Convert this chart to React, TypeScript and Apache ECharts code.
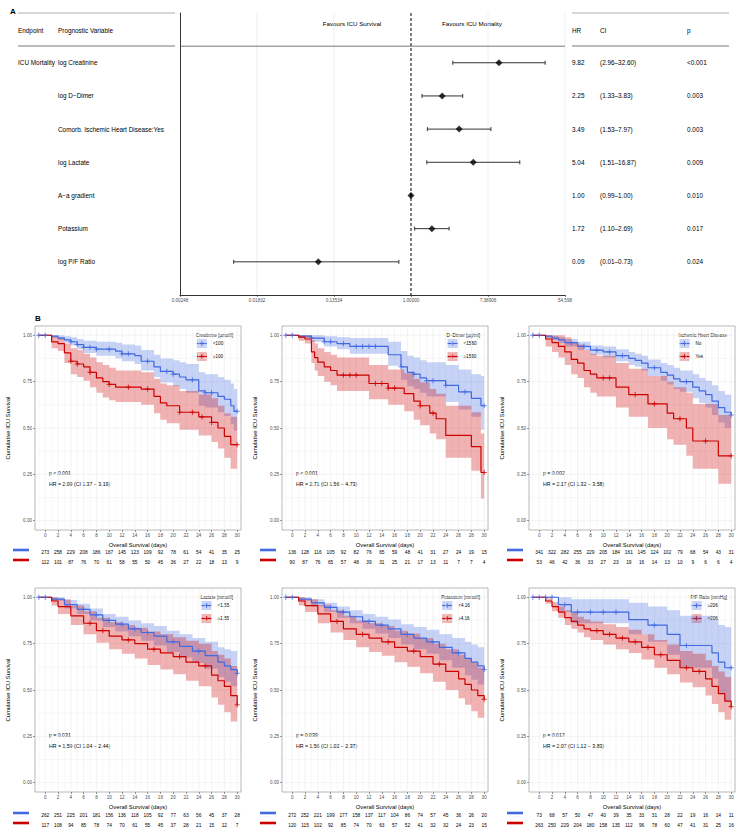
import React, { useEffect, useRef } from "react";
import * as echarts from "echarts";

const FONT = "'Liberation Sans', Arial, Helvetica, sans-serif";
const BLUE = "#4169E1";
const RED = "#CD0000";
const BLUE_FILL = "rgba(65,105,225,0.3)";
const RED_FILL = "rgba(205,0,0,0.3)";

// ---------------- Forest plot data ----------------
const forestEndpoint = "ICU Mortality";
const forestVars = [
  "log Creatinine",
  "log D\u2212Dimer",
  "Comorb. Ischemic Heart Disease:Yes",
  "log Lactate",
  "A\u2212a gradient",
  "Potassium",
  "log P/F Ratio",
];
const forestHR = [9.82, 2.25, 3.49, 5.04, 1.0, 1.72, 0.09];
const forestLower = [2.96, 1.33, 1.53, 1.51, 0.99, 1.1, 0.01];
const forestUpper = [32.6, 3.83, 7.97, 16.87, 1.0, 2.69, 0.73];
const forestHRLabel = ["9.82", "2.25", "3.49", "5.04", "1.00", "1.72", "0.09"];
const forestCILabel = ["(2.96\u201332.60)", "(1.33\u20133.83)", "(1.53\u20137.97)", "(1.51\u201316.87)", "(0.99\u20131.00)", "(1.10\u20132.69)", "(0.01\u20130.73)"];
const forestPLabel = ["<0.001", "0.003", "0.003", "0.009", "0.010", "0.017", "0.024"];
const forestTicks = [0.00248, 0.01832, 0.13534, 1, 7.38906, 54.598];
const forestTickLabels = ["0.00248", "0.01832", "0.13534", "1.00000", "7.38906", "54.598"];

// ---------------- KM common ----------------
const dayTicks = [0, 2, 4, 6, 8, 10, 12, 14, 16, 18, 20, 22, 24, 26, 28, 30];
const survTicks = [0, 0.25, 0.5, 0.75, 1];
const dayGridLines = [-1, 0, 1, 2, 3, 4, 5, 6, 7, 8, 9, 10, 11, 12, 13, 14, 15, 16, 17, 18, 19, 20, 21, 22, 23, 24, 25, 26, 27, 28, 29, 30];
const survGridLines = [0, 0.125, 0.25, 0.375, 0.5, 0.625, 0.75, 0.875, 1];

// ---------------- Panel 1: Creatinine ----------------
const p1Title = "Creatinine [\u00b5mol/l]";
const p1Groups = ["<100", "\u2265100"];
const p1PText = "p < 0.001";
const p1HRText = "HR = 2.09 (CI 1.37 \u2212 3.19)";
const p1RiskBlue = [273, 258, 229, 208, 186, 167, 145, 123, 109, 92, 78, 61, 54, 41, 35, 25];
const p1RiskRed = [112, 101, 87, 76, 70, 61, 58, 55, 50, 45, 36, 27, 22, 18, 13, 9];
const p1BlueTime = [-1, 1, 2, 3, 4, 5, 6, 8, 11, 12, 14, 15, 17, 18, 20, 21, 22, 24, 25, 27, 28, 29, 29.5, 30];
const p1BlueSurv = [1, 0.995, 0.985, 0.975, 0.965, 0.95, 0.935, 0.925, 0.915, 0.9, 0.89, 0.86, 0.83, 0.805, 0.79, 0.775, 0.76, 0.7, 0.69, 0.67, 0.655, 0.62, 0.59, 0.59];
const p1BlueLower = [1, 0.985, 0.975, 0.96, 0.945, 0.925, 0.905, 0.89, 0.875, 0.86, 0.845, 0.81, 0.775, 0.745, 0.725, 0.71, 0.69, 0.62, 0.61, 0.585, 0.565, 0.52, 0.485, 0.485];
const p1BlueUpper = [1, 1, 1, 0.995, 0.99, 0.98, 0.97, 0.965, 0.96, 0.95, 0.945, 0.92, 0.895, 0.875, 0.865, 0.855, 0.845, 0.8, 0.79, 0.775, 0.76, 0.74, 0.71, 0.71];
const p1BlueCensor = [-1, 0, 4, 5, 6, 7, 8, 10, 12, 13, 16, 19, 20, 23, 25, 26, 30];
const p1RedTime = [-1, 1, 2, 3, 4, 5, 6, 7, 8, 9, 10, 11, 15, 17, 18, 19, 21, 24, 26, 27, 28, 29, 30];
const p1RedSurv = [1, 0.964, 0.955, 0.905, 0.86, 0.845, 0.83, 0.8, 0.77, 0.75, 0.735, 0.72, 0.71, 0.67, 0.635, 0.62, 0.585, 0.56, 0.53, 0.5, 0.455, 0.41, 0.41];
const p1RedLower = [1, 0.93, 0.915, 0.85, 0.79, 0.775, 0.755, 0.72, 0.69, 0.665, 0.65, 0.64, 0.625, 0.58, 0.545, 0.525, 0.49, 0.46, 0.425, 0.39, 0.34, 0.28, 0.28];
const p1RedUpper = [1, 0.995, 0.99, 0.955, 0.93, 0.92, 0.9, 0.88, 0.855, 0.84, 0.825, 0.81, 0.8, 0.765, 0.74, 0.73, 0.7, 0.68, 0.66, 0.62, 0.58, 0.56, 0.56];
const p1RedCensor = [4, 5, 7, 10, 13, 16, 21, 23, 24.5, 26, 30];

// ---------------- Panel 2: D-Dimer ----------------
const p2Title = "D\u2212Dimer [\u00b5g/ml]";
const p2Groups = ["<1560", "\u22651560"];
const p2PText = "p < 0.001";
const p2HRText = "HR = 2.71 (CI 1.56 \u2212 4.73)";
const p2RiskBlue = [136, 128, 116, 105, 92, 82, 76, 65, 59, 48, 41, 31, 27, 24, 19, 15];
const p2RiskRed = [90, 87, 76, 65, 57, 48, 39, 31, 25, 21, 17, 13, 11, 7, 7, 4];
const p2BlueTime = [-1, 1, 3, 5, 7, 9, 15, 17, 18, 19, 20, 21, 24, 26, 28, 29.5, 30];
const p2BlueSurv = [1, 0.995, 0.985, 0.965, 0.955, 0.94, 0.895, 0.83, 0.8, 0.79, 0.77, 0.755, 0.73, 0.695, 0.66, 0.62, 0.62];
const p2BlueLower = [1, 0.985, 0.965, 0.94, 0.925, 0.9, 0.835, 0.76, 0.725, 0.71, 0.69, 0.67, 0.64, 0.6, 0.56, 0.49, 0.49];
const p2BlueUpper = [1, 1, 1, 0.995, 0.99, 0.985, 0.965, 0.915, 0.89, 0.88, 0.865, 0.855, 0.84, 0.815, 0.79, 0.78, 0.78];
const p2BlueCensor = [-1, 0, 3, 5, 6, 8, 10, 11, 12, 13, 17, 19, 21, 22, 24, 27, 30];
const p2RedTime = [-1, 1, 2, 3, 3.5, 4, 5, 6, 7, 12, 15, 17.5, 19, 20, 21.5, 22.5, 24, 28, 29.5, 30];
const p2RedSurv = [1, 0.99, 0.98, 0.91, 0.88, 0.855, 0.83, 0.81, 0.785, 0.74, 0.715, 0.685, 0.645, 0.62, 0.58, 0.55, 0.46, 0.4, 0.26, 0.26];
const p2RedLower = [1, 0.97, 0.955, 0.85, 0.81, 0.78, 0.75, 0.73, 0.7, 0.655, 0.625, 0.59, 0.545, 0.515, 0.47, 0.44, 0.34, 0.27, 0.12, 0.12];
const p2RedUpper = [1, 1, 1, 0.975, 0.955, 0.93, 0.91, 0.895, 0.88, 0.84, 0.815, 0.795, 0.765, 0.745, 0.71, 0.685, 0.62, 0.585, 0.47, 0.47];
const p2RedCensor = [8, 9, 10, 13, 14, 15, 16, 20, 22, 30];

// ---------------- Panel 3: Ischemic Heart Disease ----------------
const p3Title = "Ischemic Heart Disease";
const p3Groups = ["No", "Yes"];
const p3PText = "p = 0.002";
const p3HRText = "HR = 2.17 (CI 1.32 \u2212 3.58)";
const p3RiskBlue = [341, 322, 282, 255, 229, 205, 184, 161, 145, 124, 102, 79, 68, 54, 43, 31];
const p3RiskRed = [53, 46, 42, 36, 33, 27, 23, 19, 16, 14, 13, 10, 9, 6, 6, 4];
const p3BlueTime = [-1, 1, 2, 3, 4, 6, 8, 10, 12, 14, 15, 16, 17, 19, 20, 21, 22, 24, 25, 26, 27, 28, 29, 30];
const p3BlueSurv = [1, 0.995, 0.985, 0.975, 0.96, 0.94, 0.92, 0.91, 0.89, 0.875, 0.865, 0.85, 0.825, 0.8, 0.785, 0.765, 0.75, 0.72, 0.7, 0.68, 0.645, 0.61, 0.585, 0.57];
const p3BlueLower = [1, 0.987, 0.975, 0.96, 0.94, 0.92, 0.895, 0.88, 0.86, 0.84, 0.83, 0.81, 0.78, 0.755, 0.735, 0.71, 0.695, 0.66, 0.635, 0.61, 0.57, 0.53, 0.5, 0.48];
const p3BlueUpper = [1, 1, 0.997, 0.99, 0.98, 0.965, 0.945, 0.94, 0.925, 0.91, 0.9, 0.89, 0.87, 0.85, 0.84, 0.825, 0.81, 0.79, 0.77, 0.755, 0.73, 0.7, 0.68, 0.67];
const p3BlueCensor = [-1, 0, 5, 7, 9, 11, 13, 18, 23, 30];
const p3RedTime = [-1, 1, 2, 3, 4, 5, 6, 7, 8, 9, 12, 14, 17, 20, 21, 23, 24, 28, 30];
const p3RedSurv = [1, 0.98, 0.96, 0.94, 0.91, 0.87, 0.85, 0.81, 0.79, 0.77, 0.72, 0.68, 0.63, 0.58, 0.55, 0.5, 0.43, 0.35, 0.35];
const p3RedLower = [1, 0.94, 0.91, 0.88, 0.84, 0.79, 0.77, 0.72, 0.69, 0.67, 0.61, 0.56, 0.5, 0.44, 0.41, 0.35, 0.28, 0.2, 0.2];
const p3RedUpper = [1, 1, 1, 1, 0.99, 0.96, 0.95, 0.92, 0.9, 0.89, 0.85, 0.82, 0.78, 0.75, 0.72, 0.69, 0.63, 0.57, 0.57];
const p3RedCensor = [10, 11, 15, 18, 22, 26, 30];

// ---------------- Panel 4: Lactate ----------------
const p4Title = "Lactate [mmol/l]";
const p4Groups = ["<1.55", "\u22651.55"];
const p4PText = "p = 0.031";
const p4HRText = "HR = 1.59 (CI 1.04 \u2212 2.44)";
const p4RiskBlue = [262, 251, 225, 201, 181, 156, 136, 118, 105, 92, 77, 63, 56, 45, 37, 28];
const p4RiskRed = [117, 108, 94, 85, 78, 74, 70, 61, 55, 45, 37, 28, 21, 15, 12, 7];
const p4BlueTime = [-1, 1, 3, 5, 7, 9, 11, 13, 15, 17, 19, 21, 23, 25, 27, 28, 29, 30];
const p4BlueSurv = [1, 0.99, 0.96, 0.935, 0.905, 0.875, 0.855, 0.83, 0.81, 0.79, 0.76, 0.735, 0.71, 0.685, 0.65, 0.63, 0.61, 0.59];
const p4BlueLower = [1, 0.98, 0.94, 0.91, 0.875, 0.84, 0.815, 0.79, 0.765, 0.74, 0.705, 0.675, 0.645, 0.615, 0.57, 0.545, 0.52, 0.49];
const p4BlueUpper = [1, 1, 0.985, 0.965, 0.94, 0.91, 0.895, 0.875, 0.86, 0.845, 0.82, 0.8, 0.78, 0.76, 0.73, 0.72, 0.71, 0.7];
const p4BlueCensor = [-1, 0, 6, 8, 10, 12, 14, 16, 20, 24, 30];
const p4RedTime = [-1, 1, 2, 4, 6, 8, 10, 12, 14, 16, 18, 20, 22, 24, 26, 27, 28, 29, 30];
const p4RedSurv = [1, 0.98, 0.95, 0.9, 0.86, 0.82, 0.79, 0.77, 0.75, 0.72, 0.7, 0.68, 0.65, 0.63, 0.58, 0.55, 0.52, 0.47, 0.42];
const p4RedLower = [1, 0.955, 0.91, 0.85, 0.8, 0.755, 0.72, 0.695, 0.67, 0.635, 0.61, 0.585, 0.55, 0.52, 0.46, 0.42, 0.38, 0.33, 0.28];
const p4RedUpper = [1, 1, 0.99, 0.955, 0.925, 0.89, 0.865, 0.85, 0.835, 0.815, 0.8, 0.785, 0.765, 0.75, 0.71, 0.69, 0.67, 0.63, 0.59];
const p4RedCensor = [7, 9, 13, 17, 21, 25, 30];

// ---------------- Panel 5: Potassium ----------------
const p5Title = "Potassium [mmol/l]";
const p5Groups = ["<4.16", "\u22654.16"];
const p5PText = "p = 0.039";
const p5HRText = "HR = 1.56 (CI 1.02 \u2212 2.37)";
const p5RiskBlue = [272, 252, 221, 199, 177, 158, 137, 117, 104, 86, 74, 57, 45, 36, 26, 20];
const p5RiskRed = [120, 115, 102, 92, 85, 74, 70, 63, 57, 52, 41, 32, 32, 24, 23, 15];
const p5BlueTime = [-1, 1, 3, 5, 7, 9, 11, 13, 15, 17, 19, 21, 23, 25, 27, 28, 29, 30];
const p5BlueSurv = [1, 0.99, 0.97, 0.945, 0.92, 0.895, 0.87, 0.85, 0.83, 0.8, 0.78, 0.76, 0.73, 0.7, 0.67, 0.65, 0.63, 0.61];
const p5BlueLower = [1, 0.98, 0.95, 0.92, 0.89, 0.86, 0.83, 0.805, 0.78, 0.745, 0.72, 0.695, 0.66, 0.62, 0.58, 0.555, 0.53, 0.5];
const p5BlueUpper = [1, 1, 0.99, 0.97, 0.95, 0.93, 0.91, 0.895, 0.88, 0.855, 0.84, 0.825, 0.8, 0.78, 0.76, 0.745, 0.73, 0.72];
const p5BlueCensor = [-1, 0, 6, 8, 12, 14, 18, 22, 26, 30];
const p5RedTime = [-1, 1, 2, 4, 6, 8, 10, 12, 14, 16, 18, 20, 22, 24, 26, 27, 28, 29, 30];
const p5RedSurv = [1, 0.98, 0.955, 0.91, 0.87, 0.83, 0.8, 0.78, 0.76, 0.73, 0.71, 0.68, 0.64, 0.6, 0.56, 0.53, 0.5, 0.47, 0.45];
const p5RedLower = [1, 0.955, 0.92, 0.86, 0.81, 0.77, 0.73, 0.705, 0.685, 0.65, 0.625, 0.59, 0.545, 0.5, 0.455, 0.42, 0.385, 0.35, 0.33];
const p5RedUpper = [1, 1, 0.99, 0.96, 0.93, 0.9, 0.875, 0.86, 0.845, 0.82, 0.805, 0.78, 0.75, 0.72, 0.69, 0.67, 0.645, 0.62, 0.6];
const p5RedCensor = [7, 11, 15, 19, 23, 30];

// ---------------- Panel 6: P/F Ratio ----------------
const p6Title = "P/F Ratio [mmHg]";
const p6Groups = ["\u2265206", "<206"];
const p6PText = "p = 0.017";
const p6HRText = "HR = 2.07 (CI 1.12 \u2212 3.83)";
const p6RiskBlue = [73, 68, 57, 50, 47, 40, 39, 35, 33, 31, 28, 22, 19, 16, 14, 11];
const p6RiskRed = [263, 250, 229, 204, 180, 158, 135, 112, 96, 78, 60, 47, 41, 31, 25, 16];
const p6BlueTime = [-1, 3, 5, 14, 17, 20, 22, 27, 28, 29, 30];
const p6BlueSurv = [1, 0.96, 0.92, 0.88, 0.85, 0.8, 0.74, 0.7, 0.65, 0.62, 0.62];
const p6BlueLower = [1, 0.92, 0.86, 0.8, 0.76, 0.69, 0.62, 0.56, 0.48, 0.44, 0.44];
const p6BlueUpper = [1, 1, 0.99, 0.97, 0.95, 0.93, 0.9, 0.88, 0.85, 0.84, 0.84];
const p6BlueCensor = [-1, 0, 1, 2, 4, 6, 8, 10, 12, 18, 23, 30];
const p6RedTime = [-1, 1, 2, 3, 4, 5, 6, 7, 8, 10, 12, 14, 16, 18, 20, 22, 24, 26, 27, 28, 29, 30];
const p6RedSurv = [1, 0.98, 0.95, 0.92, 0.89, 0.87, 0.85, 0.83, 0.82, 0.8, 0.78, 0.76, 0.73, 0.69, 0.66, 0.62, 0.6, 0.56, 0.52, 0.48, 0.44, 0.41];
const p6RedLower = [1, 0.965, 0.925, 0.89, 0.85, 0.83, 0.81, 0.785, 0.77, 0.745, 0.72, 0.7, 0.665, 0.62, 0.585, 0.54, 0.515, 0.47, 0.425, 0.38, 0.34, 0.3];
const p6RedUpper = [1, 0.995, 0.975, 0.95, 0.93, 0.915, 0.895, 0.88, 0.87, 0.855, 0.84, 0.825, 0.8, 0.77, 0.745, 0.71, 0.695, 0.66, 0.63, 0.6, 0.57, 0.55];
const p6RedCensor = [9, 11, 13, 15, 17, 19, 23, 25, 30];

// ---------------- Layout ----------------
const FOREST = { left: 180, top: 13, width: 385, height: 282 };
const COL_LEFT = [35, 282, 529];
const ROW_TOP = [326, 588];
const PANEL_W = 206;
const PANEL_H = 204;
const RISK_Y = [552, 815];

type Curve = { time: number[]; surv: number[]; lower: number[]; upper: number[]; censor: number[] };
type Panel = {
  title: string; groups: string[]; pText: string; hrText: string;
  riskBlue: number[]; riskRed: number[]; blue: Curve; red: Curve;
};

const panels: Panel[] = [
  { title: p1Title, groups: p1Groups, pText: p1PText, hrText: p1HRText, riskBlue: p1RiskBlue, riskRed: p1RiskRed,
    blue: { time: p1BlueTime, surv: p1BlueSurv, lower: p1BlueLower, upper: p1BlueUpper, censor: p1BlueCensor },
    red: { time: p1RedTime, surv: p1RedSurv, lower: p1RedLower, upper: p1RedUpper, censor: p1RedCensor } },
  { title: p2Title, groups: p2Groups, pText: p2PText, hrText: p2HRText, riskBlue: p2RiskBlue, riskRed: p2RiskRed,
    blue: { time: p2BlueTime, surv: p2BlueSurv, lower: p2BlueLower, upper: p2BlueUpper, censor: p2BlueCensor },
    red: { time: p2RedTime, surv: p2RedSurv, lower: p2RedLower, upper: p2RedUpper, censor: p2RedCensor } },
  { title: p3Title, groups: p3Groups, pText: p3PText, hrText: p3HRText, riskBlue: p3RiskBlue, riskRed: p3RiskRed,
    blue: { time: p3BlueTime, surv: p3BlueSurv, lower: p3BlueLower, upper: p3BlueUpper, censor: p3BlueCensor },
    red: { time: p3RedTime, surv: p3RedSurv, lower: p3RedLower, upper: p3RedUpper, censor: p3RedCensor } },
  { title: p4Title, groups: p4Groups, pText: p4PText, hrText: p4HRText, riskBlue: p4RiskBlue, riskRed: p4RiskRed,
    blue: { time: p4BlueTime, surv: p4BlueSurv, lower: p4BlueLower, upper: p4BlueUpper, censor: p4BlueCensor },
    red: { time: p4RedTime, surv: p4RedSurv, lower: p4RedLower, upper: p4RedUpper, censor: p4RedCensor } },
  { title: p5Title, groups: p5Groups, pText: p5PText, hrText: p5HRText, riskBlue: p5RiskBlue, riskRed: p5RiskRed,
    blue: { time: p5BlueTime, surv: p5BlueSurv, lower: p5BlueLower, upper: p5BlueUpper, censor: p5BlueCensor },
    red: { time: p5RedTime, surv: p5RedSurv, lower: p5RedLower, upper: p5RedUpper, censor: p5RedCensor } },
  { title: p6Title, groups: p6Groups, pText: p6PText, hrText: p6HRText, riskBlue: p6RiskBlue, riskRed: p6RiskRed,
    blue: { time: p6BlueTime, surv: p6BlueSurv, lower: p6BlueLower, upper: p6BlueUpper, censor: p6BlueCensor },
    red: { time: p6RedTime, surv: p6RedSurv, lower: p6RedLower, upper: p6RedUpper, censor: p6RedCensor } },
];

function survAt(c: Curve, t: number): number {
  let v = c.surv[0];
  for (let i = 0; i < c.time.length; i++) if (c.time[i] <= t) v = c.surv[i];
  return v;
}

function textWidth(text: string, size: number): number {
  const ctx = document.createElement("canvas").getContext("2d");
  if (!ctx) return text.length * size * 0.5;
  ctx.font = `${size}px 'Liberation Sans', Arial, sans-serif`;
  return ctx.measureText(text).width;
}

function txt(text: string, x: number, y: number, size: number, opts: any = {}) {
  return {
    type: "text", x, y, silent: true,
    style: { text, fill: opts.fill || "#000", fontSize: size, fontFamily: FONT, fontWeight: opts.bold ? "bold" : "normal",
      align: opts.align || "left", verticalAlign: opts.valign || "middle" },
  };
}
function hline(x1: number, x2: number, y: number, color: string, w: number) {
  return { type: "line", silent: true, shape: { x1, y1: y, x2, y2: y }, style: { stroke: color, lineWidth: w } };
}

function bandRender(c: Curve, fill: string) {
  return (params: any, api: any) => {
    if (params.dataIndex !== 0) return null;
    const up: number[][] = [];
    const dn: number[][] = [];
    for (let i = 0; i < c.time.length; i++) {
      const x0 = c.time[i];
      const x1 = i + 1 < c.time.length ? c.time[i + 1] : c.time[i];
      up.push(api.coord([x0, c.upper[i]]), api.coord([x1, c.upper[i]]));
      dn.push(api.coord([x0, c.lower[i]]), api.coord([x1, c.lower[i]]));
    }
    return { type: "polygon", shape: { points: up.concat(dn.reverse()) }, style: { fill } };
  };
}

function buildOption() {
  const grid: any[] = [];
  const xAxis: any[] = [];
  const yAxis: any[] = [];
  const series: any[] = [];
  const graphic: any[] = [];

  // ---------- Forest ----------
  grid.push({ ...FOREST });
  xAxis.push({
    gridIndex: 0, type: "log", logBase: Math.E, min: forestTicks[0], max: forestTicks[forestTicks.length - 1],
    axisLine: { show: true, onZero: false, lineStyle: { color: "#333", width: 1 } },
    axisTick: { show: true, customValues: forestTicks, length: 2, lineStyle: { color: "#333", width: 0.6 } },
    axisLabel: {
      show: true, customValues: forestTicks, fontSize: 4.6, color: "#4d4d4d", fontFamily: FONT, margin: 3,
      formatter: (v: number) => {
        const i = forestTicks.findIndex((t) => Math.abs(t - v) / t < 1e-3);
        return i >= 0 ? forestTickLabels[i] : "";
      },
    },
    splitLine: { show: false },
  });
  yAxis.push({
    gridIndex: 0, type: "value", inverse: true, min: -0.5, max: 8,
    axisLine: { show: true, onZero: false, lineStyle: { color: "#333", width: 1 } },
    axisTick: { show: false }, axisLabel: { show: false }, splitLine: { show: false },
  });
  series.push({
    type: "custom", xAxisIndex: 0, yAxisIndex: 0, silent: true, z: 1,
    data: [[1, 0]],
    renderItem: (params: any, api: any) => {
      const cs = params.coordSys;
      const children: any[] = [];
      forestTicks.slice(1).forEach((t) => {
        const x = api.coord([t, 1])[0];
        if (t === 1) {
          children.push({ type: "line", shape: { x1: x, y1: cs.y, x2: x, y2: cs.y + cs.height }, style: { stroke: "#000", lineWidth: 1, lineDash: [3, 2] }, z2: 5 });
        } else {
          children.push({ type: "line", shape: { x1: x, y1: cs.y, x2: x, y2: cs.y + cs.height }, style: { stroke: "#e6e6e6", lineWidth: 0.6 } });
        }
      });
      const yh = api.coord([1, 0.5])[1];
      children.push({ type: "line", shape: { x1: cs.x, y1: yh, x2: cs.x + cs.width, y2: yh }, style: { stroke: "#555", lineWidth: 0.8 } });
      return { type: "group", children };
    },
  });
  series.push({
    type: "custom", xAxisIndex: 0, yAxisIndex: 0, silent: true, z: 3,
    data: forestVars.map((_, i) => [forestLower[i], forestUpper[i], i + 1]),
    encode: { x: [0, 1], y: 2 },
    renderItem: (params: any, api: any) => {
      const a = api.coord([api.value(0), api.value(2)]);
      const b = api.coord([api.value(1), api.value(2)]);
      const st = { stroke: "#333", lineWidth: 1 };
      return {
        type: "group",
        children: [
          { type: "line", shape: { x1: a[0], y1: a[1], x2: b[0], y2: b[1] }, style: st },
          { type: "line", shape: { x1: a[0], y1: a[1] - 2, x2: a[0], y2: a[1] + 2 }, style: st },
          { type: "line", shape: { x1: b[0], y1: b[1] - 2, x2: b[0], y2: b[1] + 2 }, style: st },
        ],
      };
    },
  });
  series.push({
    type: "scatter", xAxisIndex: 0, yAxisIndex: 0, silent: true, z: 4,
    symbol: "diamond", symbolSize: 7, itemStyle: { color: "#000" },
    data: forestHR.map((v, i) => [v, i + 1]),
  });
  series.push({
    type: "custom", xAxisIndex: 0, yAxisIndex: 0, silent: true, z: 5,
    data: forestVars.map((_, i) => [1, i + 1]),
    encode: { x: 0, y: 1 },
    renderItem: (params: any, api: any) => {
      const i = params.dataIndex;
      const y = api.coord([1, api.value(1)])[1];
      const mk = (text: string, x: number) => ({
        type: "text", x, y,
        style: { text, fill: "#000", fontSize: 6.4, fontFamily: FONT, align: "left", verticalAlign: "middle" },
      });
      const ch: any[] = [mk(forestVars[i], 58), mk(forestHRLabel[i], 572), mk(forestCILabel[i], 600), mk(forestPLabel[i], 687)];
      if (i === 0) ch.push(mk(forestEndpoint, 18));
      return { type: "group", children: ch };
    },
  });
  graphic.push(txt("A", 10, 11, 8, { bold: true }));
  graphic.push(hline(18, 175, 13, "#999", 0.8));
  graphic.push(hline(18, 175, 46, "#555", 0.8));
  graphic.push(hline(572, 729, 13, "#999", 0.8));
  graphic.push(hline(572, 729, 46, "#555", 0.8));
  graphic.push(txt("Endpoint", 18, 30, 6.4));
  graphic.push(txt("Prognostic Variable", 58, 30, 6.4));
  graphic.push(txt("HR", 572, 30, 6.4));
  graphic.push(txt("CI", 600, 30, 6.4));
  graphic.push(txt("p", 687, 30, 6.4));
  graphic.push(txt("Favours ICU Survival", 352, 23, 6.2, { align: "center" }));
  graphic.push(txt("Favours ICU Mortality", 472, 23, 6.2, { align: "center" }));
  graphic.push(txt("B", 35, 318, 8, { bold: true }));

  // ---------- KM panels ----------
  panels.forEach((p, k) => {
    const col = k % 3;
    const row = Math.floor(k / 3);
    const L = COL_LEFT[col];
    const T = ROW_TOP[row];
    const gi = grid.length;
    grid.push({ left: L, top: T, width: PANEL_W, height: PANEL_H, show: true, borderColor: "#999", borderWidth: 0.7, backgroundColor: "transparent" });
    xAxis.push({
      gridIndex: gi, type: "value", min: -1.6, max: 30.6,
      name: "Overall Survival (days)", nameLocation: "middle", nameGap: 12,
      nameTextStyle: { fontSize: 5.8, color: "#000", fontFamily: FONT },
      axisLine: { show: false, onZero: false },
      axisTick: { show: true, customValues: dayTicks, length: 2, lineStyle: { color: "#333", width: 0.5 } },
      axisLabel: { show: true, customValues: dayTicks, fontSize: 4.6, color: "#4d4d4d", fontFamily: FONT, margin: 3 },
      splitLine: { show: false },
    });
    yAxis.push({
      gridIndex: gi, type: "value", min: -0.05, max: 1.05,
      name: "Cumulative ICU Survival", nameLocation: "middle", nameGap: 24,
      nameTextStyle: { fontSize: 5.8, color: "#000", fontFamily: FONT },
      axisLine: { show: false, onZero: false },
      axisTick: { show: true, customValues: survTicks, length: 2, lineStyle: { color: "#333", width: 0.5 } },
      axisLabel: { show: true, customValues: survTicks, fontSize: 4.6, color: "#4d4d4d", fontFamily: FONT, margin: 3, formatter: (v: number) => v.toFixed(2) },
      splitLine: { show: false },
    });
    series.push({
      type: "custom", xAxisIndex: gi, yAxisIndex: gi, silent: true, z: 1, data: [[0, 0]],
      renderItem: (params: any, api: any) => {
        const cs = params.coordSys;
        const ch: any[] = [];
        dayGridLines.forEach((d) => {
          const x = api.coord([d, 0])[0];
          ch.push({ type: "line", shape: { x1: x, y1: cs.y, x2: x, y2: cs.y + cs.height }, style: { stroke: "#ebebeb", lineWidth: d % 2 === 0 ? 0.6 : 0.35 } });
        });
        survGridLines.forEach((s, j) => {
          const y = api.coord([0, s])[1];
          ch.push({ type: "line", shape: { x1: cs.x, y1: y, x2: cs.x + cs.width, y2: y }, style: { stroke: "#ebebeb", lineWidth: j % 2 === 0 ? 0.6 : 0.35 } });
        });
        return { type: "group", children: ch };
      },
    });
    const curves: [Curve, string, string][] = [[p.blue, BLUE, BLUE_FILL], [p.red, RED, RED_FILL]];
    curves.forEach(([c, , fill]) => {
      series.push({
        type: "custom", xAxisIndex: gi, yAxisIndex: gi, silent: true, z: 2,
        data: c.time.map((t, i) => [t, c.lower[i], c.upper[i]]),
        encode: { x: 0, y: [1, 2] },
        renderItem: bandRender(c, fill),
      });
    });
    curves.forEach(([c, color]) => {
      series.push({
        type: "line", xAxisIndex: gi, yAxisIndex: gi, step: "end", silent: true, z: 3,
        showSymbol: false, symbol: "none", lineStyle: { color, width: 1.2 },
        data: c.time.map((t, i) => [t, c.surv[i]]),
      });
    });
    curves.forEach(([c, color]) => {
      series.push({
        type: "custom", xAxisIndex: gi, yAxisIndex: gi, silent: true, z: 4,
        data: c.censor.map((t) => [t, survAt(c, t)]),
        encode: { x: 0, y: 1 },
        renderItem: (params: any, api: any) => {
          const pt = api.coord([api.value(0), api.value(1)]);
          const st = { stroke: color, lineWidth: 0.8 };
          return {
            type: "group",
            children: [
              { type: "line", shape: { x1: pt[0], y1: pt[1] - 2.6, x2: pt[0], y2: pt[1] + 2.6 }, style: st },
              { type: "line", shape: { x1: pt[0] - 2.6, y1: pt[1], x2: pt[0] + 2.6, y2: pt[1] }, style: st },
            ],
          };
        },
      });
    });
    graphic.push(txt(p.pText, L + 14, T + 147, 5.2));
    graphic.push(txt(p.hrText, L + 14, T + 158, 5.2));
    const tw = textWidth(p.title, 4.6);
    const lw = Math.max(tw, 17 + textWidth(p.groups[1], 4.6), 17 + textWidth(p.groups[0], 4.6));
    const lx = L + PANEL_W - 8 - lw;
    graphic.push(txt(p.title, lx, T + 9, 4.6));
    [[BLUE, BLUE_FILL, p.groups[0], 13], [RED, RED_FILL, p.groups[1], 26]].forEach(([col2, fill, lab, dy]: any) => {
      const ky = T + dy;
      graphic.push({ type: "rect", silent: true, shape: { x: lx + 1, y: ky, width: 10, height: 9 }, style: { fill } });
      graphic.push({ type: "line", silent: true, shape: { x1: lx + 1, y1: ky + 4.5, x2: lx + 11, y2: ky + 4.5 }, style: { stroke: col2, lineWidth: 1.2 } });
      graphic.push({ type: "line", silent: true, shape: { x1: lx + 6, y1: ky + 2, x2: lx + 6, y2: ky + 7 }, style: { stroke: col2, lineWidth: 0.8 } });
      graphic.push(txt(lab, lx + 17, ky + 4.5, 4.6));
    });
    const ry = RISK_Y[row];
    graphic.push({ type: "line", silent: true, shape: { x1: L - 22, y1: ry - 2, x2: L - 6, y2: ry - 2 }, style: { stroke: BLUE, lineWidth: 2.6 } });
    graphic.push({ type: "line", silent: true, shape: { x1: L - 22, y1: ry + 8, x2: L - 6, y2: ry + 8 }, style: { stroke: RED, lineWidth: 2.6 } });
  });

  // risk tables
  panels.forEach((p, k) => {
    const col = k % 3;
    const row = Math.floor(k / 3);
    const L = COL_LEFT[col];
    const gi = grid.length;
    grid.push({ left: L, top: RISK_Y[row] - 5, width: PANEL_W, height: 20 });
    xAxis.push({ gridIndex: gi, type: "value", min: -1.6, max: 30.6, show: false });
    yAxis.push({ gridIndex: gi, type: "category", data: ["blue", "red"], inverse: true, show: false });
    const rows: [number[], number][] = [[p.riskBlue, 0], [p.riskRed, 1]];
    rows.forEach(([vals, r]) => {
      series.push({
        type: "custom", xAxisIndex: gi, yAxisIndex: gi, silent: true, z: 5,
        data: dayTicks.map((d, i) => [d, r, vals[i]]),
        encode: { x: 0, y: 1 },
        renderItem: (params: any, api: any) => {
          const pt = api.coord([api.value(0), api.value(1)]);
          return {
            type: "text", x: pt[0], y: pt[1],
            style: { text: String(api.value(2)), fill: "#000", fontSize: 4.8, fontFamily: FONT, align: "center", verticalAlign: "middle" },
          };
        },
      });
    });
  });

  return { animation: false, backgroundColor: "#fff", grid, xAxis, yAxis, series, graphic };
}

export default function App() {
  const ref = useRef<HTMLDivElement>(null);
  useEffect(() => {
    if (!ref.current) return;
    const chart = echarts.init(ref.current, null, { renderer: "svg" });
    chart.setOption(buildOption() as any);
    return () => chart.dispose();
  }, []);
  return <div ref={ref} style={{ position: "fixed", left: 0, top: 0, width: 746, height: 839, background: "#fff" }} />;
}
